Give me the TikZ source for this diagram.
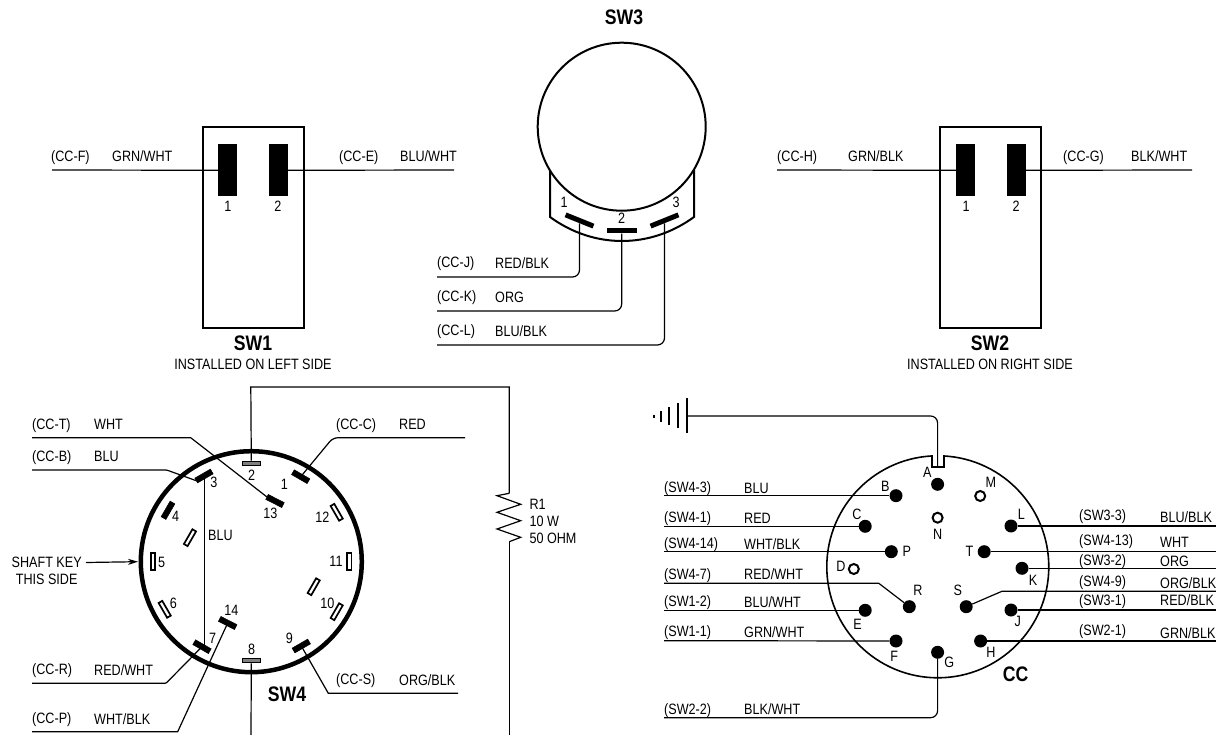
\documentclass[tikz,border=0pt]{standalone}
\usepackage{fontspec}
\setmainfont[FakeStretch=0.84]{Liberation Sans}
\usetikzlibrary{calc}
\usetikzlibrary{shapes.geometric, arrows.meta}
\newcommand{\lblfont}{\fontsize{15}{17}\selectfont}
\newcommand{\swfont}{\fontsize{21}{23}\selectfont\bfseries}
\tikzstyle{wire} = [line width=1.2pt, rounded corners=7pt]
\tikzstyle{arrow} = [line width=1.2pt,-{Stealth[length=10,width=6]}]
\tikzstyle{lbl} = [anchor=west, inner sep=0, text height=10, text depth=0, font=\lblfont]
\tikzstyle{num} = [inner sep=0, text height=10, text depth=0, font=\lblfont]
\tikzstyle{swname} = [inner sep=0, text height=14, text depth=0, font=\swfont]
\tikzstyle{swbox} = [rectangle, draw=black, line width=2pt, fill=white, minimum width=101, minimum height=201]
\tikzstyle{blade} = [rectangle, draw=none, fill=black, inner sep=0, minimum width=19, minimum height=52]
\tikzstyle{tab} = [rectangle, draw=none, fill=black, inner sep=0, minimum width=30, minimum height=5]
\tikzstyle{spade} = [rectangle, draw=black, fill=black, inner sep=0, line width=0.5pt, minimum width=18, minimum height=5.5]
\tikzstyle{slot} = [spade, fill=white, line width=1.7pt, minimum height=4.2, minimum width=17]
\tikzstyle{shaded} = [spade, fill=gray, line width=1.2pt, minimum height=4.2]
\tikzstyle{dot} = [circle, draw=none, fill=black, inner sep=0, minimum size=13]
\tikzstyle{hole} = [circle, draw=black, fill=white, line width=2pt, inner sep=0, minimum size=10]

\begin{document}
\begin{tikzpicture}[x=1pt, y=-1pt]
    \useasboundingbox (0,0) rectangle (1216,735);

    % SW1
    \node (swone) [swbox] at (253.3,227.3) {};
    \node (swonea) [blade] at (227.8,170.3) {};
    \node (swoneb) [blade] at (278.2,170.3) {};
    \node (swonean) [num] at (228,206.5) {1};
    \node (swonebn) [num] at (278,206.5) {2};
    \node (swonename) [swname] at (253,344) {SW1};
    \node (swonenote) [num] at (253,365) {INSTALLED ON LEFT SIDE};
    \coordinate (ccf) at (52,170);
    \coordinate (cce) at (454,170);
    \draw [wire] (ccf) -- (swonea);
    \draw [wire] (swoneb) -- (cce);
    \node (ccfl) [lbl] at (51,157) {(CC-F)};
    \node (ccfw) [lbl] at (112,157) {GRN/WHT};
    \node (ccel) [lbl] at (339,157) {(CC-E)};
    \node (ccew) [lbl] at (400,157) {BLU/WHT};

    % SW2
    \node (swtwo) [swbox] at (990.3,227.3) {};
    \node (swtwoa) [blade] at (965.8,170.3) {};
    \node (swtwob) [blade] at (1016.2,170.3) {};
    \node (swtwoan) [num] at (966,206.5) {1};
    \node (swtwobn) [num] at (1016,206.5) {2};
    \node (swtwoname) [swname] at (990,344) {SW2};
    \node (swtwonote) [num] at (990,365) {INSTALLED ON RIGHT SIDE};
    \coordinate (cch) at (777,170);
    \coordinate (ccg) at (1192,170);
    \draw [wire] (cch) -- (swtwoa);
    \draw [wire] (swtwob) -- (ccg);
    \node (cchl) [lbl] at (777,157) {(CC-H)};
    \node (cchw) [lbl] at (848,157) {GRN/BLK};
    \node (ccgl) [lbl] at (1063,157) {(CC-G)};
    \node (ccgw) [lbl] at (1131,157) {BLK/WHT};

    % SW3
    \draw [line width=2pt, fill=white] (550,170) -- (550,217) .. controls (572,233) and (597,241) .. (622,241) .. controls (647,241) and (672,233) .. (694,217) -- (694,170);
    \node (swthree) [circle, draw=black, fill=white, line width=2pt, inner sep=0, minimum size=168] at (621.7,126.7) {};
    \node (swthreename) [swname] at (624,18) {SW3};
    \node (swthreea) [tab, rotate=-22] at (579.5,220.5) {};
    \node (swthreeb) [tab] at (621.7,231) {};
    \node (swthreec) [tab, rotate=22] at (664.5,220.5) {};
    \node (swthreean) [num] at (564,203) {1};
    \node (swthreebn) [num] at (621.7,219) {2};
    \node (swthreecn) [num] at (676,203) {3};
    \coordinate (ccj) at (437,277);
    \coordinate (cck) at (437,311);
    \coordinate (ccl) at (437,345);
    \draw [wire] (swthreea) -- (swthreea |- ccj) -- (ccj);
    \draw [wire] (swthreeb) -- (swthreeb |- cck) -- (cck);
    \draw [wire] (swthreec) -- (swthreec |- ccl) -- (ccl);
    \node (ccjl) [lbl] at (437,263) {(CC-J)};
    \node (ccjw) [lbl] at (495,264) {RED/BLK};
    \node (cckl) [lbl] at (437,297) {(CC-K)};
    \node (cckw) [lbl] at (495,298) {ORG};
    \node (ccll) [lbl] at (437,331) {(CC-L)};
    \node (ccLw) [lbl] at (495,332) {BLU/BLK};

    % SW4
    \node (ring) [circle, draw=black, line width=4.5pt, inner sep=0, minimum size=221] at (251.3,561.7) {};
    \node (ptwo) [shaded] at (251.3,463.3) {};
    \node (pone) [spade, rotate=-30] at (300.7,476.7) {};
    \node (pthree) [spade, rotate=30] at (204,476) {};
    \node (pfour) [spade, rotate=60] at (168,510.3) {};
    \node (pfive) [slot, rotate=90] at (153,561.7) {};
    \node (psix) [slot, rotate=-60] at (164.7,609.3) {};
    \node (pseven) [spade, rotate=-30] at (202,646.7) {};
    \node (peight) [shaded] at (251.3,660.7) {};
    \node (pnine) [spade, rotate=30] at (301.3,646) {};
    \node (pten) [slot, rotate=60] at (336.7,611.7) {};
    \node (peleven) [slot, rotate=90] at (349.3,561.7) {};
    \node (ptwelve) [slot, rotate=-60] at (336.7,512.3) {};
    \node (pthirteen) [spade, rotate=-27] at (275,501) {};
    \node (pfourteen) [spade, rotate=-27] at (227.7,623) {};
    \node (pinnera) [slot, rotate=60] at (190,537.7) {};
    \node (pinnerb) [slot, rotate=60] at (313.7,586.7) {};
    \node (ptwon) [num] at (251.7,475) {2};
    \node (ponen) [num] at (284.3,484) {1};
    \node (pthreen) [num] at (214,482.7) {3};
    \node (pthirteenn) [num] at (270.3,513.3) {13};
    \node (ptwelven) [num] at (322.3,517.3) {12};
    \node (pfourn) [num] at (175.7,516) {4};
    \node (pfiven) [num] at (161.7,562.3) {5};
    \node (pelevenn) [num] at (336,561.7) {11};
    \node (psixn) [num] at (173.3,603.3) {6};
    \node (ptenn) [num] at (327.3,603.3) {10};
    \node (pfourteenn) [num] at (231.3,610.7) {14};
    \node (psevenn) [num] at (212.7,638.3) {7};
    \node (pninen) [num] at (289.3,638.3) {9};
    \node (peightn) [num] at (251.7,649.3) {8};
    \node (swfourname) [swname] at (287,694.5) {SW4};
    \node (blulink) [lbl] at (208,535.5) {BLU};
    \coordinate (cct) at (32,437.7);
    \coordinate (cctk) at (190.7,437.7);
    \coordinate (ccb) at (32,470);
    \coordinate (ccbk) at (166.7,470);
    \coordinate (ccc) at (465,437.7);
    \coordinate (ccck) at (333,437.7);
    \coordinate (ccr) at (32,683.3);
    \coordinate (ccrk) at (166,683.3);
    \coordinate (ccp) at (32,731.7);
    \coordinate (ccpk) at (177.7,731.7);
    \coordinate (ccs) at (458,693.3);
    \coordinate (ccsk) at (328.3,693.3);
    \coordinate (rtopa) at (250.8,387);
    \coordinate (rtopb) at (509.3,387);
    \coordinate (ronetop) at (509.3,493.3);
    \coordinate (ronebot) at (509.3,541.7);
    \coordinate (rend) at (509.3,736);
    \coordinate (eightend) at (251,736);
    \coordinate (shaftend) at (138,561.7);
    \draw [wire, rounded corners=0pt] (cct) -- (cctk) -- (pthirteen.west);
    \draw [wire, rounded corners=1pt] (ccb) -- (ccbk) -- (pthree.west);
    \draw [wire, rounded corners=5pt] (ccc) -- (ccck) -- (pone.center);
    \draw [wire, rounded corners=1pt] (ccr) -- (ccrk) -- (pseven.center);
    \draw [wire, rounded corners=0pt] (ccp) -- (ccpk) -- (pfourteen.center);
    \draw [wire, rounded corners=0pt] (ccs) -- (ccsk) -- (pnine.center);
    \draw [wire] ([xshift=0.3]pthree.center) -- ([xshift=0.3]pthree.center |- pseven);
    \draw [wire, rounded corners=0pt] (ptwo.north) -- (rtopa) -- (rtopb) -- (ronetop);
    \draw [wire, rounded corners=0pt] (ronetop) -- (497,495.7) -- (520.7,504.3) -- (497,512.3) -- (520.7,520.7) -- (497,529) -- (520.7,537.3) -- (ronebot);
    \draw [wire] (ronebot) -- (rend);
    \draw [wire] (peight.south) -- (eightend);
    \node (ronea) [lbl] at (529.3,504.3) {R1};
    \node (roneb) [lbl] at (529.3,521) {10 W};
    \node (ronec) [lbl] at (529.3,538) {50 OHM};
    \node (cctl) [lbl] at (32,424) {(CC-T)};
    \node (cctw) [lbl] at (94,424) {WHT};
    \node (ccbl) [lbl] at (32,456) {(CC-B)};
    \node (ccbw) [lbl] at (94,456.5) {BLU};
    \node (cccl) [lbl] at (336,424) {(CC-C)};
    \node (cccw) [lbl] at (399,424) {RED};
    \node (ccrl) [lbl] at (32,669) {(CC-R)};
    \node (ccrw) [lbl] at (94,670.5) {RED/WHT};
    \node (ccpl) [lbl] at (32,718) {(CC-P)};
    \node (ccpw) [lbl] at (94,719) {WHT/BLK};
    \node (ccsl) [lbl] at (336,679) {(CC-S)};
    \node (ccsw) [lbl] at (399,680) {ORG/BLK};
    \node (shafta) [num] at (46.7,562.5) {SHAFT KEY};
    \node (shaftb) [num] at (46.7,579) {THIS SIDE};
    \draw [arrow] ([xshift=4]shafta.east) -- (shaftend);

    % CC
    \node (ccring) [circle, draw=black, line width=1.6pt, inner sep=0, minimum size=222] at (937.8,566.8) {};
    \fill [white] (932,452) rectangle (944,466.5);
    \draw [line width=1.6pt] (931.7,455) -- (931.7,467) -- (944.2,467) -- (944.2,455);
    \node (cca) [dot] at (937.6,484.3) {};
    \node (ccbp) [dot] at (896,495.7) {};
    \node (cccp) [dot] at (865.2,526.3) {};
    \node (ccpp) [dot] at (891.3,551.7) {};
    \node (ccep) [dot] at (865.2,610.3) {};
    \node (ccrp) [dot] at (909.3,606.7) {};
    \node (ccfp) [dot] at (896,641) {};
    \node (ccgp) [dot] at (937.6,652.3) {};
    \node (cchp) [dot] at (980.6,641) {};
    \node (ccsp) [dot] at (966.2,606.7) {};
    \node (ccjp) [dot] at (1011,610) {};
    \node (cckp) [dot] at (1022,568.3) {};
    \node (cctp) [dot] at (984.2,551.7) {};
    \node (cclp) [dot] at (1011,526) {};
    \node (ccmp) [hole] at (980.2,496) {};
    \node (ccnp) [hole] at (937.6,517.7) {};
    \node (ccdp) [hole] at (853.8,569) {};
    \node (ccan) [num] at (927.3,472.3) {A};
    \node (ccbn) [num] at (885.4,486.7) {B};
    \node (ccmn) [num] at (990.8,482.7) {M};
    \node (cccn) [num] at (856.8,514) {C};
    \node (ccnn) [num] at (937.6,534) {N};
    \node (ccln) [num] at (1021.3,514) {L};
    \node (ccpn) [num] at (906.7,551.7) {P};
    \node (cctn) [num] at (969.5,551.7) {T};
    \node (ccdn) [num] at (841,566.7) {D};
    \node (cckn) [num] at (1033,580) {K};
    \node (ccrn) [num] at (918,590.7) {R};
    \node (ccsn) [num] at (957.8,590.7) {S};
    \node (ccen) [num] at (857.5,624) {E};
    \node (ccjn) [num] at (1017.7,621.7) {J};
    \node (ccfn) [num] at (894.2,656) {F};
    \node (ccgn) [num] at (949.3,662.7) {G};
    \node (cchn) [num] at (990.8,652) {H};
    \node (ccname) [swname] at (1015.5,674.5) {CC};

    % ground
    \coordinate (gnd) at (687,416);
    \coordinate (gndk) at (937.6,416);
    \coordinate (ccnotch) at (937.6,467);
    \draw [line width=2.4pt] (687,398) -- (687,433);
    \draw [line width=2.4pt] (678,403) -- (678,428);
    \draw [line width=2.4pt] (669,407) -- (669,425);
    \draw [line width=2.4pt] (661,411) -- (661,422);
    \draw [line width=2.4pt] (654,414.5) -- (654,417.5);
    \draw [wire] (gnd) -- (gndk) -- (ccnotch);

    % CC wires
    \coordinate (swfourc) at (664,495.7);
    \coordinate (swfoura) at (664,526.3);
    \coordinate (swfourn) at (664,551.7);
    \coordinate (swfourg) at (664,583.3);
    \coordinate (swfourgk) at (878.8,583.3);
    \coordinate (swoneb) at (664,610.3);
    \coordinate (swonea) at (664,640.7);
    \coordinate (swtwob) at (664,717.7);
    \coordinate (swthc) at (1216,526);
    \coordinate (swfourm) at (1216,551.7);
    \coordinate (swthb) at (1216,568.3);
    \coordinate (swfouri) at (1216,591.3);
    \coordinate (swfourik) at (1001.9,591.3);
    \coordinate (swtha) at (1216,610);
    \coordinate (swtwoa) at (1216,641);
    \draw [wire] (swfourc) -- (ccbp);
    \draw [wire] (swfoura) -- (cccp);
    \draw [wire] (swfourn) -- (ccpp);
    \draw [wire, rounded corners=0pt] (swfourg) -- (swfourgk) -- (ccrp);
    \draw [wire] (swoneb) -- (ccep);
    \draw [wire] (swonea) -- (ccfp);
    \draw [wire] (swtwob) -- (swtwob -| ccgp) -- (ccgp);
    \draw [wire] (swthc) -- (cclp);
    \draw [wire] (swfourm) -- (cctp);
    \draw [wire] (swthb) -- (cckp);
    \draw [wire, rounded corners=0pt] (swfouri) -- (swfourik) -- (ccsp);
    \draw [wire] (swtha) -- (ccjp);
    \draw [wire] (swtwoa) -- (cchp);
    \node (lswfourc) [lbl] at (664,487) {(SW4-3)};
    \node (wswfourc) [lbl] at (744,488) {BLU};
    \node (lswfoura) [lbl] at (664,517) {(SW4-1)};
    \node (wswfoura) [lbl] at (744,518) {RED};
    \node (lswfourn) [lbl] at (664,543.3) {(SW4-14)};
    \node (wswfourn) [lbl] at (744,544) {WHT/BLK};
    \node (lswfourg) [lbl] at (664,574.3) {(SW4-7)};
    \node (wswfourg) [lbl] at (744,574) {RED/WHT};
    \node (lswoneb) [lbl] at (664,601.7) {(SW1-2)};
    \node (wswoneb) [lbl] at (744,602.5) {BLU/WHT};
    \node (lswonea) [lbl] at (664,631.7) {(SW1-1)};
    \node (wswonea) [lbl] at (744,632.5) {GRN/WHT};
    \node (lswtwob) [lbl] at (664,709) {(SW2-2)};
    \node (wswtwob) [lbl] at (744,709.5) {BLK/WHT};
    \node (lswthc) [lbl] at (1079,515) {(SW3-3)};
    \node (wswthc) [lbl] at (1160,517) {BLU/BLK};
    \node (lswfourm) [lbl] at (1079,540.7) {(SW4-13)};
    \node (wswfourm) [lbl] at (1160,542.7) {WHT};
    \node (lswthb) [lbl] at (1079,560) {(SW3-2)};
    \node (wswthb) [lbl] at (1160,561.7) {ORG};
    \node (lswfouri) [lbl] at (1079,581.7) {(SW4-9)};
    \node (wswfouri) [lbl] at (1160,583.3) {ORG/BLK};
    \node (lswtha) [lbl] at (1079,600.7) {(SW3-1)};
    \node (wswtha) [lbl] at (1160,600.7) {RED/BLK};
    \node (lswtwoa) [lbl] at (1079,630.7) {(SW2-1)};
    \node (wswtwoa) [lbl] at (1160,633) {GRN/BLK};
\end{tikzpicture}
\end{document}
